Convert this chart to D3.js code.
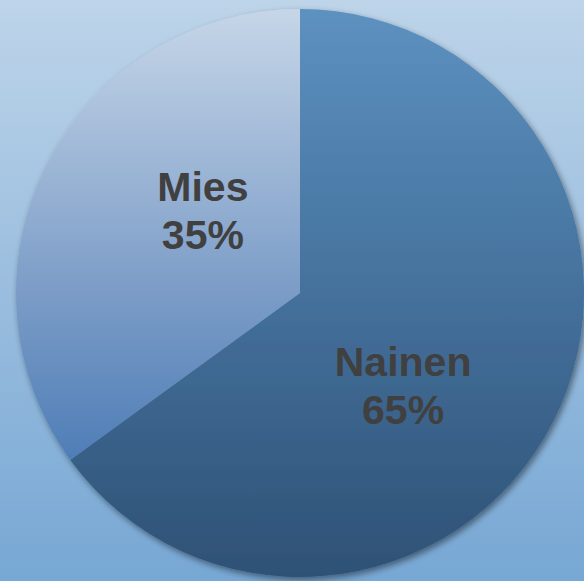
<!DOCTYPE html>
<html><head><meta charset="utf-8">
<script src="https://cdn.jsdelivr.net/npm/d3@7"></script>
<style>html,body{margin:0;padding:0;overflow:hidden;}</style>
</head><body>
<script>
const categories = ["Nainen", "Mies"];
const values = [65, 35];
const valueLabels = ["65%", "35%"];

const W = 584, H = 581, cx = 300, cy = 293, R = 284;
const svg = d3.select("body").append("svg").attr("width", W).attr("height", H);
const defs = svg.append("defs");

const bg = defs.append("linearGradient").attr("id", "bg").attr("x1", 0).attr("y1", 0).attr("x2", 0).attr("y2", 1);
bg.append("stop").attr("offset", 0).attr("stop-color", "#bdd4e9");
bg.append("stop").attr("offset", 1).attr("stop-color", "#77a7d4");

function grad(id, stops) {
  const g = defs.append("linearGradient").attr("id", id).attr("gradientUnits", "userSpaceOnUse")
    .attr("x1", 0).attr("y1", -R).attr("x2", 0).attr("y2", R);
  stops.forEach(s => g.append("stop").attr("offset", s[0]).attr("stop-color", s[1]));
}
grad("g0", [[0, "#5d91c0"], [0.5, "#44719c"], [1, "#2e5175"]]);
grad("g1", [[0, "#c6d6e8"], [0.5, "#7b9cc7"], [0.8, "#4e7db6"], [1, "#4577b3"]]);

const f = defs.append("filter").attr("id", "sh").attr("x", "-10%").attr("y", "-10%").attr("width", "120%").attr("height", "120%");
f.append("feDropShadow").attr("dx", 2).attr("dy", 3).attr("stdDeviation", 3).attr("flood-color", "#000").attr("flood-opacity", 0.45);

svg.append("rect").attr("width", W).attr("height", H).attr("fill", "url(#bg)");

const pie = d3.pie().sort(null).value(d => d)(values);
const arc = d3.arc().innerRadius(0).outerRadius(R);

const g = svg.append("g").attr("transform", `translate(${cx},${cy})`);
g.append("g").attr("filter", "url(#sh)").selectAll("path").data(pie).join("path")
  .attr("d", arc)
  .attr("fill", (d, i) => `url(#g${i})`);

const labelPos = [[0.363, 0.318], [-0.342, -0.299]];
pie.forEach((d, i) => {
  const t = g.append("text")
    .attr("x", labelPos[i][0] * R).attr("y", labelPos[i][1] * R)
    .attr("text-anchor", "middle")
    .attr("font-family", "Liberation Sans, Arial, sans-serif")
    .attr("font-weight", "bold").attr("font-size", 41).attr("fill", "#404040");
  t.append("tspan").attr("x", labelPos[i][0] * R).attr("dy", "-0.18em").text(categories[i]);
  t.append("tspan").attr("x", labelPos[i][0] * R).attr("dy", "1.17em").text(valueLabels[i]);
});
</script>
</body></html>
